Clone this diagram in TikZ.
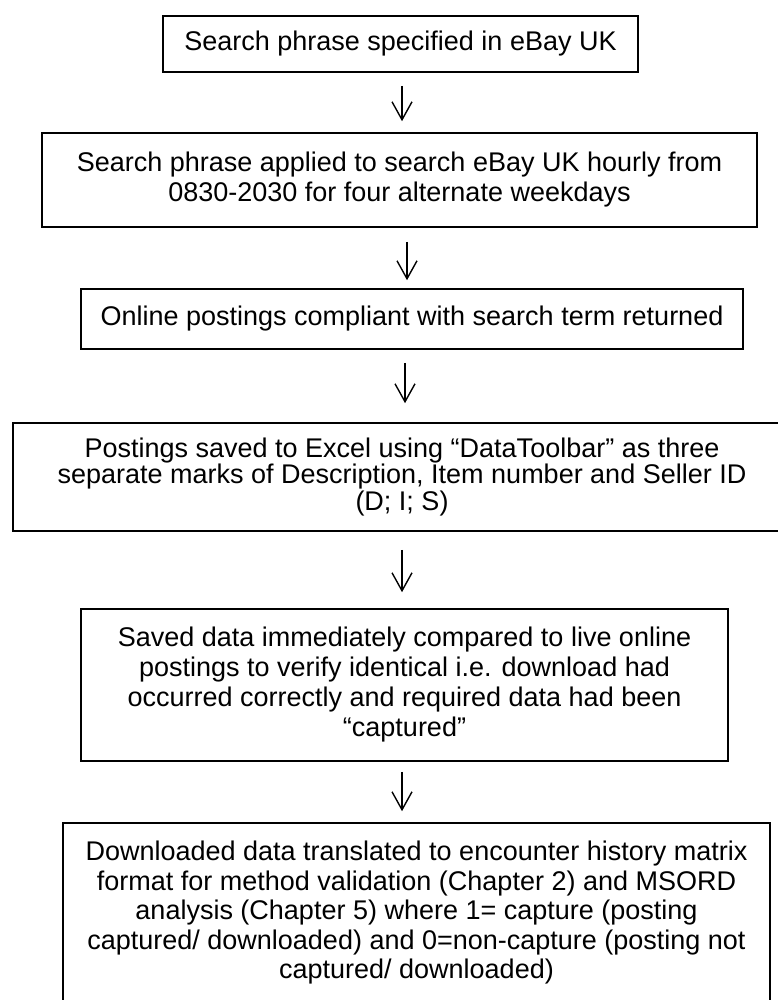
\documentclass[tikz,border=0pt]{standalone}
\usepackage{fontspec}
\setmainfont{Liberation Sans}
\usetikzlibrary{arrows.meta}
\begin{document}
\begin{tikzpicture}[x=1pt, y=-1pt, >={Straight Barb[length=18pt,width=20pt]},
    box/.style={draw, line width=1.6pt, align=center, inner sep=0pt, font=\fontsize{27}{30}\selectfont},
    flow/.style={->, line width=1.4pt}]
    \useasboundingbox (0,0) rectangle (778,1000);
    \clip (0,0) rectangle (778,1000);
    \node[box, minimum width=475pt, minimum height=56pt] (phrase) at (400.5,44) {Search phrase specified in eBay UK};
    \node[box, minimum width=715pt, minimum height=94pt] (search) at (399.5,180) {Search phrase applied to search eBay UK hourly from\\0830-2030 for four alternate weekdays};
    \node[box, minimum width=662pt, minimum height=60pt] (postings) at (412,319) {Online postings compliant with search term returned};
    \node[box, minimum width=778pt, minimum height=108pt, font=\fontsize{27}{26.5}\selectfont] (excel) at (402,477) {Postings saved to Excel using “DataToolbar” as three\\separate marks of Description, Item number and Seller ID\\(D; I; S)};
    \node[box, minimum width=647pt, minimum height=152pt] (verify) at (404.5,685) {Saved data immediately compared to live online\\postings to verify identical i.e. download had\\occurred correctly and required data had been\\“captured”};
    \node[box, minimum width=707pt, minimum height=180pt, font=\fontsize{27}{29.5}\selectfont] (matrix) at (416.5,913) {Downloaded data translated to encounter history matrix\\format for method validation (Chapter 2) and MSORD\\analysis (Chapter 5) where 1= capture (posting\\captured/ downloaded) and 0=non-capture (posting not\\captured/ downloaded)};
    % arrows between the steps
    \draw[flow, shorten <=13pt, shorten >=11pt] (phrase.south -| 402,0) -- (search.north -| 402,0);
    \draw[flow, shorten <=14pt, shorten >=8pt] (search.south -| 407,0) -- (postings.north -| 407,0);
    \draw[flow, shorten <=13pt, shorten >=19pt] (postings.south -| 405,0) -- (excel.north -| 405,0);
    \draw[flow, shorten <=18pt, shorten >=16pt] (excel.south -| 402,0) -- (verify.north -| 402,0);
    \draw[flow, shorten <=10pt, shorten >=11pt] (verify.south -| 402,0) -- (matrix.north -| 402,0);
\end{tikzpicture}
\end{document}
